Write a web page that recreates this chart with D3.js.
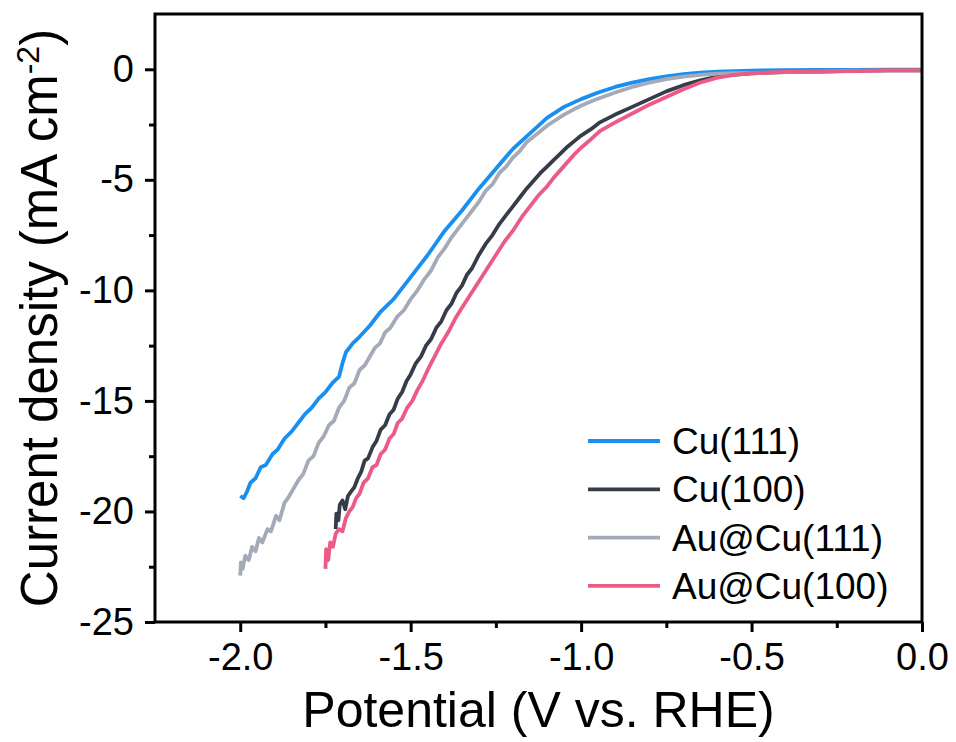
<!DOCTYPE html>
<html>
<head>
<meta charset="utf-8">
<script src="https://cdn.jsdelivr.net/npm/d3@7"></script>
<style>
    body { margin: 0; background: #fff; }
    svg { display: block; }
</style>
</head>
<body>
<div id="container"><svg></svg></div>
<script>
let width = 956;
let height = 742;
let fontFamily = "'Liberation Sans', Arial, sans-serif";

// series: [potential V vs RHE, current density mA cm-2]
let cu111 = [
    [-2.000,-19.3],[-1.990,-19.4],[-1.980,-19.1],[-1.970,-18.7],[-1.955,-18.5],[-1.940,-18.0],
    [-1.925,-17.9],[-1.905,-17.4],[-1.890,-17.2],[-1.870,-16.7],[-1.850,-16.4],[-1.830,-16.0],
    [-1.810,-15.6],[-1.790,-15.3],[-1.770,-14.9],[-1.750,-14.6],[-1.730,-14.2],[-1.710,-13.9],
    [-1.700,-13.3],[-1.690,-12.8],[-1.670,-12.4],[-1.650,-12.1],[-1.620,-11.6],[-1.590,-11.0],
    [-1.550,-10.4],[-1.500,-9.4],[-1.450,-8.4],[-1.400,-7.3],[-1.350,-6.4],[-1.300,-5.4],
    [-1.250,-4.5],[-1.200,-3.6],[-1.150,-2.9],[-1.100,-2.2],[-1.050,-1.7],[-1.000,-1.35],
    [-0.950,-1.05],[-0.900,-0.8],[-0.850,-0.6],[-0.800,-0.45],[-0.750,-0.32],[-0.700,-0.22],
    [-0.650,-0.15],[-0.600,-0.11],[-0.550,-0.08],[-0.500,-0.06],[-0.400,-0.04],[-0.300,-0.03],
    [-0.200,-0.03],[-0.100,-0.02],[0.000,-0.02]
];
let cu100 = [
    [-1.720,-20.8],[-1.718,-20.1],[-1.712,-20.4],[-1.708,-19.7],[-1.700,-19.5],[-1.692,-19.9],
    [-1.684,-19.3],[-1.675,-19.1],[-1.665,-18.9],[-1.655,-18.5],[-1.645,-18.2],[-1.635,-17.7],
    [-1.625,-17.6],[-1.612,-17.1],[-1.600,-16.8],[-1.588,-16.3],[-1.575,-16.1],[-1.562,-15.6],
    [-1.550,-15.4],[-1.538,-14.9],[-1.525,-14.6],[-1.512,-14.1],[-1.500,-13.8],[-1.485,-13.3],
    [-1.470,-13.0],[-1.455,-12.5],[-1.440,-12.2],[-1.425,-11.7],[-1.410,-11.4],[-1.395,-10.9],
    [-1.380,-10.6],[-1.365,-10.1],[-1.350,-9.8],[-1.335,-9.3],[-1.320,-9.0],[-1.300,-8.4],
    [-1.280,-7.9],[-1.260,-7.5],[-1.240,-7.0],[-1.220,-6.6],[-1.200,-6.2],[-1.180,-5.8],
    [-1.160,-5.4],[-1.140,-5.05],[-1.120,-4.7],[-1.100,-4.4],[-1.080,-4.1],[-1.060,-3.8],
    [-1.040,-3.5],[-1.020,-3.25],[-1.000,-3.0],[-0.970,-2.7],[-0.945,-2.4],[-0.900,-2.05],
    [-0.850,-1.7],[-0.800,-1.35],[-0.750,-1.0],[-0.700,-0.72],[-0.650,-0.5],[-0.600,-0.33],
    [-0.560,-0.25],[-0.500,-0.18],[-0.450,-0.15],[-0.400,-0.13],[-0.300,-0.1],[-0.200,-0.07],
    [-0.100,-0.05],[0.000,-0.05]
];
let aucu111 = [
    [-2.000,-22.9],[-1.998,-22.3],[-1.993,-22.6],[-1.985,-22.0],[-1.975,-22.2],[-1.965,-21.6],
    [-1.955,-21.8],[-1.945,-21.2],[-1.935,-21.4],[-1.920,-20.8],[-1.910,-20.9],[-1.895,-20.2],
    [-1.885,-20.4],[-1.870,-19.6],[-1.860,-19.4],[-1.845,-19.0],[-1.830,-18.6],[-1.815,-18.3],
    [-1.800,-17.7],[-1.785,-17.5],[-1.770,-16.9],[-1.755,-16.6],[-1.740,-16.1],[-1.725,-15.9],
    [-1.710,-15.3],[-1.695,-15.0],[-1.680,-14.4],[-1.665,-14.2],[-1.650,-13.6],[-1.635,-13.4],
    [-1.620,-13.0],[-1.605,-12.6],[-1.590,-12.4],[-1.575,-11.9],[-1.560,-11.7],[-1.540,-11.2],
    [-1.520,-10.9],[-1.500,-10.4],[-1.480,-10.0],[-1.460,-9.5],[-1.440,-9.1],[-1.420,-8.5],
    [-1.400,-8.1],[-1.380,-7.6],[-1.360,-7.2],[-1.340,-6.8],[-1.320,-6.4],[-1.300,-6.0],
    [-1.280,-5.5],[-1.260,-5.2],[-1.240,-4.7],[-1.220,-4.4],[-1.200,-4.0],[-1.180,-3.7],
    [-1.160,-3.3],[-1.140,-3.05],[-1.120,-2.8],[-1.100,-2.55],[-1.080,-2.35],[-1.050,-2.05],
    [-1.020,-1.8],[-1.000,-1.65],[-0.970,-1.45],[-0.945,-1.3],[-0.900,-1.05],[-0.850,-0.8],
    [-0.800,-0.6],[-0.750,-0.45],[-0.700,-0.33],[-0.650,-0.25],[-0.600,-0.2],[-0.550,-0.18],
    [-0.500,-0.16],[-0.400,-0.13],[-0.300,-0.1],[-0.200,-0.06],[-0.100,-0.05],[0.000,-0.05]
];
let aucu100 = [
    [-1.750,-22.6],[-1.748,-21.7],[-1.742,-22.2],[-1.736,-21.4],[-1.728,-21.6],[-1.720,-21.0],
    [-1.710,-20.8],[-1.700,-20.9],[-1.690,-20.3],[-1.680,-20.0],[-1.670,-19.8],[-1.660,-19.4],
    [-1.650,-19.2],[-1.638,-18.7],[-1.625,-18.5],[-1.612,-18.0],[-1.600,-17.9],[-1.588,-17.4],
    [-1.575,-17.2],[-1.562,-16.7],[-1.550,-16.5],[-1.538,-16.0],[-1.525,-15.8],[-1.510,-15.3],
    [-1.495,-15.0],[-1.480,-14.5],[-1.465,-14.1],[-1.450,-13.6],[-1.430,-13.0],[-1.410,-12.4],
    [-1.390,-11.9],[-1.370,-11.3],[-1.350,-10.8],[-1.325,-10.2],[-1.300,-9.6],[-1.275,-9.0],
    [-1.250,-8.4],[-1.225,-7.8],[-1.200,-7.3],[-1.175,-6.7],[-1.150,-6.2],[-1.125,-5.7],
    [-1.100,-5.3],[-1.080,-4.9],[-1.060,-4.55],[-1.040,-4.2],[-1.020,-3.85],[-1.000,-3.55],
    [-0.970,-3.15],[-0.945,-2.8],[-0.900,-2.4],[-0.850,-2.0],[-0.800,-1.6],[-0.750,-1.25],
    [-0.700,-0.9],[-0.650,-0.6],[-0.600,-0.38],[-0.550,-0.25],[-0.500,-0.18],[-0.400,-0.12],
    [-0.300,-0.1],[-0.200,-0.08],[-0.100,-0.05],[0.000,-0.05]
];

let series_names = ['Cu(111)', 'Cu(100)', 'Au@Cu(111)', 'Au@Cu(100)'];
let series_data = [cu111, cu100, aucu111, aucu100];
let series_colors = ['#1a8ff0', '#363c4a', '#a4aab8', '#ec5a86'];

let x_ticks = [-2.0, -1.5, -1.0, -0.5, 0.0];
let x_minor = [-1.75, -1.25, -0.75, -0.25];
let y_ticks = [-25, -20, -15, -10, -5, 0];
let y_minor = [-22.5, -17.5, -12.5, -7.5, -2.5];

function draw_main() {
    let padding = {'left': 155, 'right': width - 922, 'top': 14, 'bottom': height - 622};
    let svg = d3.select('#container').select('svg')
        .attr('width', width)
        .attr('height', height)
        .style('font-family', fontFamily);

    let x = d3.scaleLinear()
        .domain([-2.25, 0])
        .range([padding.left, width - padding.right]);
    let y = d3.scaleLinear()
        .domain([-25, 2.5])
        .range([height - padding.bottom, padding.top]);

    // curves
    let line = d3.line()
        .x(d => x(d[0]))
        .y(d => y(d[1]));
    svg.append('g')
        .selectAll('path')
        .data(series_data)
        .enter().append('path')
        .attr('d', d => line(d))
        .attr('fill', 'none')
        .attr('stroke', (d, i) => series_colors[i])
        .attr('stroke-width', 3.8)
        .attr('stroke-linejoin', 'round');

    // frame
    svg.append('rect')
        .attr('x', padding.left)
        .attr('y', padding.top)
        .attr('width', width - padding.left - padding.right)
        .attr('height', height - padding.top - padding.bottom)
        .attr('fill', 'none')
        .attr('stroke', '#000')
        .attr('stroke-width', 3);

    // x axis (plain hyphen minus like the original)
    svg.append('g')
        .attr('transform', `translate(0, ${height - padding.bottom})`)
        .call(d3.axisBottom(x).tickValues(x_ticks).tickSize(10).tickSizeOuter(0).tickPadding(11)
            .tickFormat(d => d.toFixed(1)));
    svg.append('g')
        .attr('transform', `translate(0, ${height - padding.bottom})`)
        .call(d3.axisBottom(x).tickValues(x_minor).tickSize(6).tickSizeOuter(0).tickFormat(''));

    // y axis
    svg.append('g')
        .attr('transform', `translate(${padding.left}, 0)`)
        .call(d3.axisLeft(y).tickValues(y_ticks).tickSize(10).tickSizeOuter(0).tickPadding(11)
            .tickFormat(d => String(d)));
    svg.append('g')
        .attr('transform', `translate(${padding.left}, 0)`)
        .call(d3.axisLeft(y).tickValues(y_minor).tickSize(6).tickSizeOuter(0).tickFormat(''));

    svg.selectAll('.domain').remove();
    svg.selectAll('.tick line').attr('stroke', '#000').attr('stroke-width', 3);
    svg.selectAll('.tick text')
        .attr('font-family', fontFamily)
        .attr('font-size', '38px')
        .attr('fill', '#000');

    // axis labels
    svg.append('text')
        .attr('x', padding.left + (width - padding.left - padding.right) / 2)
        .attr('y', 727)
        .attr('text-anchor', 'middle')
        .attr('font-size', '50px')
        .text('Potential (V vs. RHE)');

    let ylab = svg.append('text')
        .attr('transform', `translate(57, ${padding.top + (height - padding.top - padding.bottom) / 2}) rotate(-90)`)
        .attr('text-anchor', 'middle')
        .attr('font-size', '51px');
    ylab.append('tspan').text('Current density (mA cm');
    ylab.append('tspan').attr('font-size', '32px').attr('dy', '-18').text('-2');
    ylab.append('tspan').attr('dy', '18').text(')');

    // legend
    let legend = svg.append('g')
        .selectAll('g')
        .data(series_names)
        .enter().append('g')
        .attr('transform', (d, i) => `translate(588, ${441 + i * 48.3})`);
    legend.append('line')
        .attr('x1', 0).attr('x2', 72)
        .attr('stroke', (d, i) => series_colors[i])
        .attr('stroke-width', 3.8);
    legend.append('text')
        .attr('x', 84)
        .attr('dy', '0.35em')
        .attr('font-size', '37px')
        .text(d => d);
}

draw_main();
</script>
</body>
</html>
